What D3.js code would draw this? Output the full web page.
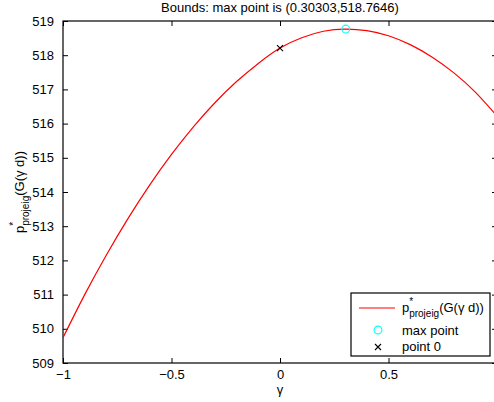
<!DOCTYPE html>
<html>
<head>
<meta charset="utf-8">
<script src="https://cdn.jsdelivr.net/npm/d3@7"></script>
<style>
  body { margin: 0; background: #fff; }
  svg { display: block; font-family: "Liberation Sans", Arial, sans-serif; }
</style>
</head>
<body>
<div id="chart"></div>
<script>
// ---- data ----
const gammaVals = [-1, -0.9, -0.8, -0.7, -0.6, -0.5, -0.4, -0.3, -0.2, -0.1, 0,
                   0.1, 0.2, 0.3, 0.4, 0.5, 0.6, 0.7, 0.8, 0.9, 1];
const pVals = [509.74, 511.00, 512.16, 513.23, 514.21, 515.10, 515.90, 516.61, 517.23, 517.76, 518.21,
               518.51, 518.70, 518.765, 518.72, 518.57, 518.31, 517.95, 517.49, 516.92, 516.22];
const maxPoint = [0.30303, 518.7646];
const point0 = [0, 518.21];
const xTicks = [-1, -0.5, 0, 0.5, 1];
const xTickLabels = ["\u22121", "\u22120.5", "0", "0.5", ""];
const yTicks = [509, 510, 511, 512, 513, 514, 515, 516, 517, 518, 519];
const legendLabels = ["max point", "point 0"];

const W = 494, H = 402;
const margin = { top: 21, right: -3, bottom: 39, left: 63 };
const width = W - margin.left - margin.right;
const height = H - margin.top - margin.bottom;
const tickLen = 5;

const svg = d3.select("#chart").append("svg")
  .attr("width", W)
  .attr("height", H);

const g = svg.append("g")
  .attr("transform", `translate(${margin.left},${margin.top})`);

const x = d3.scaleLinear().domain([-1, 1]).range([0, width]);
const y = d3.scaleLinear().domain([509, 519]).range([height, 0]);

// axes box and inward ticks (matlab style)
g.append("g")
  .attr("transform", `translate(0,${height})`)
  .call(d3.axisBottom(x).tickValues(xTicks).tickFormat((d, i) => xTickLabels[i])
    .tickSizeInner(-tickLen).tickSizeOuter(0).tickPadding(7))
  .call(a => a.select(".domain").remove());

g.append("g")
  .call(d3.axisTop(x).tickValues(xTicks).tickFormat("").tickSizeInner(-tickLen).tickSizeOuter(0))
  .call(a => a.select(".domain").remove());

g.append("g")
  .call(d3.axisLeft(y).tickValues(yTicks).tickFormat(d3.format("d")).tickSizeInner(-tickLen).tickSizeOuter(0).tickPadding(9))
  .call(a => a.select(".domain").remove());

g.append("g")
  .attr("transform", `translate(${width},0)`)
  .call(d3.axisRight(y).tickValues(yTicks).tickFormat("").tickSizeInner(-tickLen).tickSizeOuter(0))
  .call(a => a.select(".domain").remove());

g.selectAll(".tick text")
  .style("font-size", "13px")
  .style("fill", "#000");
g.selectAll(".tick line").attr("stroke", "#000");

g.append("rect")
  .attr("x", 0).attr("y", 0)
  .attr("width", width).attr("height", height)
  .attr("fill", "none")
  .attr("stroke", "#000")
  .attr("stroke-width", 1.2);

// clip for the curve
svg.append("defs").append("clipPath").attr("id", "clip")
  .append("rect").attr("width", width).attr("height", height);

const line = d3.line()
  .x((d, i) => x(gammaVals[i]))
  .y(d => y(d))
  .curve(d3.curveNatural);

g.append("path")
  .datum(pVals)
  .attr("clip-path", "url(#clip)")
  .attr("fill", "none")
  .attr("stroke", "#ff0000")
  .attr("stroke-width", 1.2)
  .attr("d", line);

// markers
function xMark(sel, cx, cy, s) {
  sel.append("path")
    .attr("d", `M${cx - s},${cy - s}L${cx + s},${cy + s}M${cx - s},${cy + s}L${cx + s},${cy - s}`)
    .attr("stroke", "#000")
    .attr("stroke-width", 1.1)
    .attr("fill", "none");
}

g.append("circle")
  .attr("cx", x(maxPoint[0]))
  .attr("cy", y(maxPoint[1]))
  .attr("r", 3.9)
  .attr("fill", "none")
  .attr("stroke", "#00ffff")
  .attr("stroke-width", 1.1);

xMark(g, x(point0[0]), y(point0[1]), 3);

// title
svg.append("text")
  .attr("x", margin.left + width / 2)
  .attr("y", 12)
  .attr("text-anchor", "middle")
  .style("font-size", "13px")
  .text(`Bounds: max point is (${maxPoint[0]},${maxPoint[1]})`);

// x label
svg.append("text")
  .attr("x", margin.left + width / 2)
  .attr("y", 394)
  .attr("text-anchor", "middle")
  .style("font-size", "13px")
  .text("\u03b3");

// p*_projeig(G(γ d)) with super/subscript
function pLabel(t) {
  t.append("tspan").text("p");
  t.append("tspan").attr("dy", -7).style("font-size", "10px").text("*");
  t.append("tspan").attr("dx", -4).attr("dy", 12).style("font-size", "10px").text("projeig");
  t.append("tspan").attr("dy", -5).text("(G(\u03b3 d))");
}

const yl = svg.append("text")
  .attr("transform", `translate(24,${margin.top + height / 2}) rotate(-90)`)
  .attr("text-anchor", "middle")
  .style("font-size", "13px");
pLabel(yl);

// legend
const lg = svg.append("g").attr("transform", "translate(351,293)");
lg.append("rect")
  .attr("width", 139).attr("height", 63)
  .attr("fill", "#fff")
  .attr("stroke", "#000")
  .attr("stroke-width", 1.2);

lg.append("line")
  .attr("x1", 8).attr("x2", 44)
  .attr("y1", 15).attr("y2", 15)
  .attr("stroke", "#ff0000")
  .attr("stroke-width", 1.2);
const lt = lg.append("text").attr("x", 51).attr("y", 19).style("font-size", "13px");
pLabel(lt);

lg.append("circle")
  .attr("cx", 27).attr("cy", 37).attr("r", 3.9)
  .attr("fill", "none").attr("stroke", "#00ffff").attr("stroke-width", 1.1);
xMark(lg, 27, 54, 3);

lg.selectAll("text.lbl")
  .data(legendLabels)
  .enter().append("text")
  .attr("class", "lbl")
  .attr("x", 51)
  .attr("y", (d, i) => 42 + i * 16)
  .style("font-size", "13px")
  .text(d => d);
</script>
</body>
</html>
